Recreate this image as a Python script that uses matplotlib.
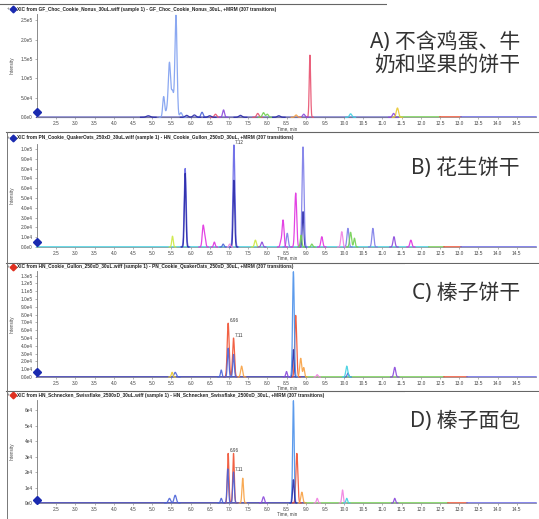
import numpy as np
import matplotlib
matplotlib.use("Agg")
import matplotlib.pyplot as plt
from matplotlib.lines import Line2D
from matplotlib.patches import Rectangle

plt.rcParams["font.family"] = ["Liberation Sans", "DejaVu Sans"]

W, H = 539, 519

# ---------------------------------------------------------------- data
# trace palette (one colour per MRM transition family)
PALETTE = {
    "lblue": "#7f9ff0", "blue": "#4a62d8", "navy": "#2a2aa8", "mblue": "#6464e6",
    "violet": "#7c7ce8", "red": "#e8506e", "redor": "#f05030", "orange": "#f8a040",
    "magenta": "#e030e0", "pink": "#f080e0", "purple": "#8a48dc", "green": "#70d050",
    "ygreen": "#cce840", "yellow": "#e8c830", "cyan": "#40d0e0", "sky": "#4a90ea",
}

TITLES = [
    "XIC from GF_Choc_Cookie_Nonus_30uL.wiff (sample 1) - GF_Choc_Cookie_Nonus_30uL, +MRM (307 transitions)",
    "XIC from PN_Cookie_QuakerOats_250xD_30uL.wiff (sample 1) - HN_Cookie_Gullon_250xD_30uL, +MRM (307 transitions)",
    "XIC from HN_Cookie_Gullon_250xD_30uL.wiff (sample 1) - PN_Cookie_QuakerOats_250xD_30uL, +MRM (307 transitions)",
    "XIC from HN_Schnecken_Swissflake_2500xD_30uL.wiff (sample 1) - HN_Schnecken_Swissflake_2500xD_30uL, +MRM (307 transitions)",
]
SAMPLE_LABELS = ["A) 不含鸡蛋、牛\n奶和坚果的饼干", "B) 花生饼干", "C) 榛子饼干", "D) 榛子面包"]
MARKER_COLORS = ["#1a2ab0", "#1a2ab0", "#e03020", "#e03020"]

X_TICKS = [2.5 + 0.5 * i for i in range(25)]
X_TICK_LABELS = [f"{v:.1f}" for v in X_TICKS]

# Panel A: retention time (min), apex intensity (cps), peak sigma (min), trace
A_rt = [5.30, 5.38, 5.45, 5.53, 5.62, 5.75, 6.30, 6.65, 6.86, 7.75, 7.90, 8.00, 8.75, 8.95, 9.11, 10.17, 11.29, 11.39, 4.9, 5.9, 6.1, 6.5, 7.3, 8.3]
A_height = [5.3e4, 1.6e4, 1.39e5, 6.5e4, 2.62e5, 1.2e4, 1.3e4, 8e3, 1.9e4, 1.0e4, 1.2e4, 8e3, 6e3, 8e3, 1.6e5, 9e3, 1.0e4, 2.4e4, 4e3, 5e3, 6e3, 4e3, 5e3, 4e3]
A_sigma = [0.025, 0.03, 0.03, 0.03, 0.028, 0.03, 0.03, 0.03, 0.025, 0.03, 0.03, 0.03, 0.03, 0.03, 0.018, 0.03, 0.03, 0.03, 0.05, 0.04, 0.04, 0.04, 0.04, 0.04]
A_trace = ["lblue", "lblue", "lblue", "lblue", "lblue", "lblue", "blue", "red", "purple", "red", "green", "green", "orange", "purple", "red", "cyan", "purple", "yellow", "navy", "navy", "navy", "navy", "navy", "navy"]

# Panel B
B_rt = [5.86, 5.86, 7.13, 7.13, 8.93, 8.93, 6.33, 6.38, 6.62, 8.35, 8.41, 8.74, 9.42, 9.94, 10.10, 10.75, 8.52, 10.17, 10.27, 8.88, 9.16, 5.53, 7.69, 11.30, 7.86, 11.74, 6.85, 7.02]
B_height = [8.0e4, 7.5e4, 1.04e5, 6.8e4, 1.02e5, 3.6e4, 2.2e4, 8e3, 5e3, 5e3, 2.75e4, 5.5e4, 1.05e4, 1.56e4, 1.9e4, 1.9e4, 1.4e4, 1.5e4, 9e3, 1.2e4, 3e3, 1.1e4, 7e3, 1.05e4, 5e3, 7e3, 3e3, 3e3]
B_sigma = [0.025, 0.02, 0.025, 0.02, 0.025, 0.02, 0.025, 0.02, 0.02, 0.02, 0.025, 0.025, 0.025, 0.025, 0.025, 0.025, 0.025, 0.025, 0.02, 0.02, 0.02, 0.02, 0.025, 0.025, 0.025, 0.025, 0.02, 0.02]
B_trace = ["mblue", "navy", "mblue", "navy", "violet", "navy", "magenta", "magenta", "magenta", "magenta", "magenta", "magenta", "magenta", "pink", "violet", "violet", "violet", "green", "green", "green", "green", "ygreen", "ygreen", "purple", "purple", "magenta", "blue", "pink"]

# Panel C
C_rt = [6.98, 7.12, 8.74, 7.33, 8.87, 8.95, 6.98, 7.12, 6.80, 5.60, 8.68, 8.68, 5.52, 10.07, 11.32, 8.50, 9.30, 10.10]
C_height = [6.9e4, 5.0e4, 7.9e4, 1.4e4, 2.4e4, 1.2e4, 3.7e4, 2.9e4, 9e3, 6e3, 3.5e4, 1.35e5, 6e3, 1.4e4, 1.24e4, 7e3, 3e3, 5e3]
C_sigma = [0.025, 0.025, 0.025, 0.025, 0.025, 0.02, 0.02, 0.02, 0.02, 0.03, 0.02, 0.022, 0.02, 0.025, 0.025, 0.02, 0.02, 0.02]
C_trace = ["redor", "redor", "redor", "orange", "orange", "orange", "blue", "blue", "blue", "blue", "navy", "sky", "yellow", "cyan", "purple", "purple", "pink", "blue"]

# Panel D
D_rt = [6.98, 7.12, 8.77, 7.36, 8.90, 6.97, 7.12, 8.68, 8.68, 9.96, 10.07, 11.32, 9.30, 7.90, 5.45, 5.60, 6.80]
D_height = [3.2e4, 3.2e4, 3.2e4, 1.6e4, 7e3, 2.2e4, 2.0e4, 6.6e4, 1.5e4, 8.4e3, 3e3, 3e3, 3e3, 4e3, 3e3, 5e3, 3e3]
D_sigma = [0.02, 0.02, 0.025, 0.02, 0.025, 0.02, 0.02, 0.02, 0.02, 0.02, 0.02, 0.02, 0.02, 0.025, 0.03, 0.03, 0.02]
D_trace = ["redor", "redor", "redor", "orange", "orange", "blue", "blue", "sky", "navy", "pink", "cyan", "purple", "pink", "purple", "blue", "blue", "blue"]

# baseline colour segments: (start, end, trace)
A_base = [(2.0, 11.4, "navy"), (11.4, 12.5, "green"), (12.5, 13.05, "redor"), (13.05, 15.0, "mblue")]
B_base = [(2.0, 12.2, "cyan"), (12.2, 12.6, "green"), (12.6, 13.05, "redor"), (13.05, 15.0, "mblue")]
C_base = [(2.0, 9.0, "navy"), (9.0, 12.6, "green"), (12.6, 13.2, "redor"), (13.2, 15.0, "mblue")]
D_base = [(2.0, 9.0, "navy"), (9.0, 12.7, "green"), (12.7, 13.2, "redor"), (13.2, 15.0, "mblue")]

# apex labels: (rt, intensity, text)
B_apex = [(7.13, 1.04e5, "7.12")]
C_apex = [(6.98, 6.9e4, "6.96"), (7.12, 5.0e4, "7.11")]
D_apex = [(6.98, 3.2e4, "6.96"), (7.12, 2.0e4, "7.11")]

# y axis ticks per panel
A_yticks = [0, 5e4, 1e5, 1.5e5, 2e5, 2.5e5]
B_yticks = [i * 1e4 for i in range(11)]
C_yticks = [i * 1e4 for i in range(14)]
D_yticks = [i * 1e4 for i in range(7)]

PANELS = [
    dict(rt=A_rt, h=A_height, s=A_sigma, tr=A_trace, base=A_base, apex=[], yt=A_yticks, ymax=2.66e5, dec=1,
         top=14, bot=117.3, sep=4, title_y=9, mark=1.3e4),
    dict(rt=B_rt, h=B_height, s=B_sigma, tr=B_trace, base=B_base, apex=B_apex, yt=B_yticks, ymax=1.05e5, dec=1,
         top=144, bot=247, sep=132, title_y=137.5, mark=5e3),
    dict(rt=C_rt, h=C_height, s=C_sigma, tr=C_trace, base=C_base, apex=C_apex, yt=C_yticks, ymax=1.36e5, dec=1,
         top=271, bot=377, sep=263, title_y=266.5, mark=6.5e3),
    dict(rt=D_rt, h=D_height, s=D_sigma, tr=D_trace, base=D_base, apex=D_apex, yt=D_yticks, ymax=6.65e4, dec=0,
         top=400, bot=503, sep=391, title_y=395, mark=2e3),
]


def fx(x):
    return x / W


def fy(y):
    return 1 - y / H


def sci(v, dec):
    if v == 0:
        return f"{0:.{dec}f}e0"
    e = int(np.floor(np.log10(v)))
    return f"{v / 10 ** e:.{dec}f}e{e}"


fig = plt.figure(figsize=(W / 100, H / 100), dpi=100)
fig.patch.set_facecolor("white")

t = np.linspace(2.0, 15.0, 5201)
AX_L, AX_R = 37, 536

for i, p in enumerate(PANELS):
    ax = fig.add_axes([fx(AX_L), fy(p["bot"]), fx(AX_R) - fx(AX_L), (p["bot"] - p["top"]) / H])
    ax.set_xlim(2.0, 15.0)
    ax.set_ylim(0, p["ymax"])
    for side in ("top", "right"):
        ax.spines[side].set_visible(False)
    ax.spines["left"].set_color("#777777")
    ax.spines["left"].set_linewidth(0.6)
    ax.spines["bottom"].set_color("#999999")
    ax.spines["bottom"].set_linewidth(0.5)

    # baseline segments
    for a, b, key in p["base"]:
        m = (t >= a) & (t <= b)
        ax.plot(t[m], np.zeros(m.sum()), color=PALETTE[key], lw=1.1, clip_on=False, zorder=2)

    # peaks, grouped by trace so each transition is one continuous line
    keys = list(dict.fromkeys(p["tr"]))
    for key in keys:
        y = np.zeros_like(t)
        for rt, h, s, k in zip(p["rt"], p["h"], p["s"], p["tr"]):
            if k == key:
                y += h * np.exp(-0.5 * ((t - rt) / s) ** 2)
        m = y > 1.0
        yy = np.where(m, y, np.nan)
        ax.plot(t, yy, color=PALETTE[key], lw=0.9, alpha=0.9, clip_on=False, zorder=3)

    for rt, h, txt in p["apex"]:
        ax.text(rt + 0.03, h, txt, fontsize=3.3, color="#333333", ha="left", va="bottom")

    ax.set_xticks(X_TICKS)
    ax.set_xticklabels(X_TICK_LABELS)
    ax.set_yticks(p["yt"])
    ax.set_yticklabels([sci(v, p["dec"]) for v in p["yt"]])
    ax.tick_params(axis="both", labelsize=3.4, labelcolor="#444444", colors="#777777",
                   length=1.5, width=0.4, pad=1.5)
    ax.patch.set_alpha(0)

    # marker on the intensity axis
    ax.plot([2.0], [p["mark"]], marker="D", ms=4.0, color="#1a2ab0", clip_on=False, zorder=5)

    # axis titles
    fig.text(fx(12), fy((p["top"] + p["bot"]) / 2), "Intensity", rotation=90, fontsize=3.3,
             color="#444444", ha="center", va="center")
    fig.text(fx(277), fy(p["bot"] + 11), "Time, min", fontsize=3.3, color="#444444",
             ha="left", va="center")

    # panel header
    fig.text(fx(7), fy(p["title_y"]), "+", fontsize=3.5, color="#666666", ha="left", va="center")
    fig.add_artist(Line2D([fx(13)], [fy(p["title_y"])], marker="D", ms=3.4,
                          color=MARKER_COLORS[i], transform=fig.transFigure))
    fig.text(fx(17), fy(p["title_y"]), TITLES[i], fontsize=3.4, color="#222222",
             fontweight="bold", ha="left", va="center")

    # panel frame
    fig.add_artist(Line2D([fx(6 if i else 0), 1], [fy(p["sep"]), fy(p["sep"])], color="#666666",
                          lw=0.8, transform=fig.transFigure))
    if i:
        nxt = PANELS[i + 1]["sep"] if i < 3 else H
        fig.add_artist(Line2D([fx(6.5), fx(6.5)], [fy(p["sep"]), fy(nxt)], color="#777777",
                              lw=0.7, transform=fig.transFigure))

# sample labels in white boxes at the upper right of each panel
box_specs = [(387, 0, 152, 68, 520, 32), (418, 134, 121, 48, 520, 168),
             (405, 264, 134, 50, 520, 293), (405, 392, 134, 50, 520, 422)]
for (bx, by, bw, bh, tx, ty), lab in zip(box_specs, SAMPLE_LABELS):
    fig.add_artist(Rectangle((fx(bx), fy(by + bh)), bw / W, bh / H, transform=fig.transFigure,
                             facecolor="white", edgecolor="none", zorder=6))
    fig.text(fx(tx), fy(ty), lab, fontsize=15, color="#333333", ha="right",
             va="top" if "\n" in lab else "center",
             family=["Noto Sans", "Noto Sans CJK SC"], linespacing=1.1, zorder=7,
             multialignment="right")

fig.savefig("out.png", dpi=100)
